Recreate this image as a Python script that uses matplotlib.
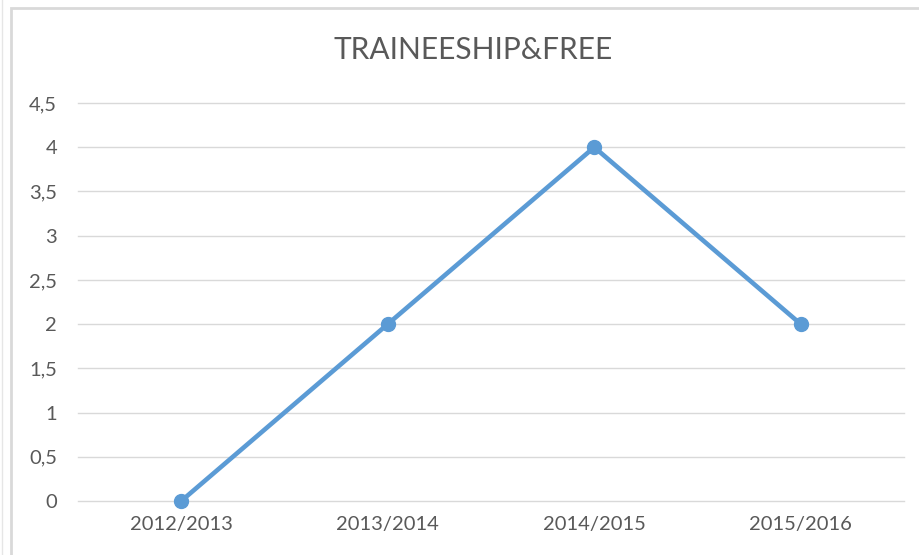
import matplotlib
matplotlib.use('Agg')
import matplotlib.pyplot as plt
from matplotlib.patches import Rectangle
from matplotlib.lines import Line2D

categories = ['2012/2013', '2013/2014', '2014/2015', '2015/2016']
values = [0, 2, 4, 2]
y_ticks = [0, 0.5, 1, 1.5, 2, 2.5, 3, 3.5, 4, 4.5]

plt.rcParams['font.family'] = ['Lato', 'DejaVu Sans']

W, H = 920, 555
fig = plt.figure(figsize=(W / 100, H / 100), dpi=100)

# cornice grigia del grafico (tipo Excel)
fig.patches.append(Rectangle((11 / W, -0.1), 1.0, 1.1 - 8 / H, transform=fig.transFigure,
                             fill=False, edgecolor='#d9d9d9', linewidth=2))
fig.lines.append(Line2D([2 / W, 2 / W], [0, 1], transform=fig.transFigure,
                        color='#e6e6e6', linewidth=1))

ax = fig.add_axes([78 / W, (H - 501) / H, (904 - 78) / W, (501 - 103) / H])
x = list(range(len(categories)))
ax.plot(x, values, color='#5b9bd5', linewidth=3.3, marker='o', markersize=10,
        solid_capstyle='round', zorder=3, clip_on=False)

ax.set_xlim(-0.5, len(categories) - 0.5)
ax.set_ylim(0, 4.5)
ax.set_yticks(y_ticks)
ax.set_yticklabels([('%g' % v).replace('.', ',') for v in y_ticks])
ax.set_xticks(x)
ax.set_xticklabels(categories)
ax.tick_params(length=0, labelsize=14.5, labelcolor='#595959')
ax.tick_params(axis='y', pad=15)
ax.tick_params(axis='x', pad=11)
ax.grid(axis='y', color='#d9d9d9', linewidth=1)
for gl in ax.get_ygridlines():
    gl.set_clip_on(False)
for s in ax.spines.values():
    s.set_visible(False)

fig.text(473 / W, 1 - 50 / H, 'TRAINEESHIP&FREE', ha='center', va='center',
         fontsize=21.5, color='#595959')

fig.savefig('out.png', dpi=100)
